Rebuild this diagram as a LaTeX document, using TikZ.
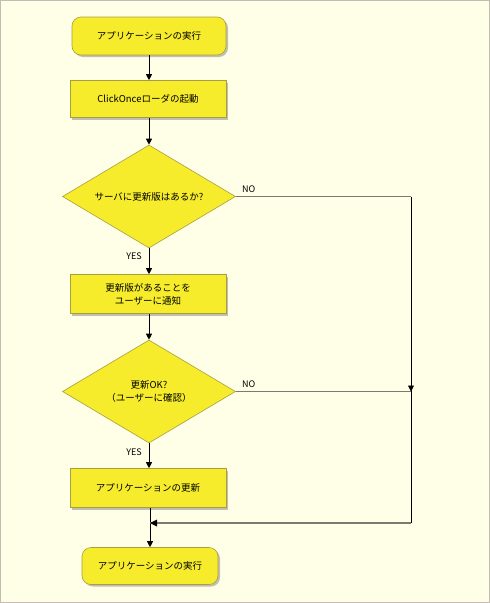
\documentclass[tikz,border=0pt]{standalone}
\usepackage{fontspec}
\setmainfont{Noto Sans CJK JP}
\usetikzlibrary{shapes.geometric,shapes.misc,arrows.meta,shadows}
\definecolor{bg}{HTML}{FFFFE8}
\definecolor{frame}{HTML}{C4BCB4}
\definecolor{boxfill}{HTML}{F6EC2C}
\definecolor{boxline}{HTML}{A89E40}
\definecolor{gline}{HTML}{7A7A70}
\tikzset{
  every node/.style={font=\fontsize{9.5}{13}\selectfont},
  box/.style={draw=boxline, fill=boxfill, line width=0.6pt, minimum width=156pt, minimum height=37pt, inner sep=2pt, align=center,
    drop shadow={shadow xshift=2pt, shadow yshift=-2pt, opacity=0.35, fill=black!70}},
  decbox/.style={draw=boxline, fill=boxfill, line width=0.6pt, diamond, aspect=1.7, minimum width=173pt, minimum height=103pt, inner sep=0pt, align=center},
  flow/.style={draw=black, line width=0.9pt, -{Triangle[length=6pt,width=6pt]}},
  vline/.style={draw=black, line width=0.9pt},
  hline/.style={draw=gline, line width=1.5pt},
  lbl/.style={font=\fontsize{9}{10}\selectfont, inner sep=0pt}
}
\begin{document}
\begin{tikzpicture}[x=1pt,y=-1pt]
\fill[bg] (0,0) rectangle (490,603);
\draw[frame, line width=1.2pt] (0.6,0.6) rectangle (489.4,602.4);
\node[box, rectangle, rounded corners=9pt, minimum width=154pt, minimum height=38pt] (s1) at (149,36) {アプリケーションの実行};
\node[box] (b2) at (148,99) {ClickOnceローダの起動};
\node[decbox] (d1) at (149,196.5) {サーバに更新版はあるか?};
\node[box, minimum height=39pt] (b3) at (148,294) {更新版があることを\\ユーザーに通知};
\node[decbox] (d2) at (149,391.5) {更新OK?\\（ユーザーに確認）};
\node[box, minimum height=39pt] (b4) at (148,488) {アプリケーションの更新};
\node[box, rectangle, rounded corners=9pt, minimum width=136pt, minimum height=37pt] (s2) at (150,566) {アプリケーションの実行};
\coordinate (j1) at (411,196.5);
\coordinate (j2) at (411,391.5);
\coordinate (j3) at (411,523);
\coordinate (j4) at (150,523);
\draw[flow] (s1.south) -- (b2.north -| s1.south);
\draw[flow] (b2.south -| d1.north) -- (d1.north);
\draw[flow] (d1.south) -- (b3.north -| d1.south);
\draw[flow] (b3.south -| d2.north) -- (d2.north);
\draw[flow] (d2.south) -- (b4.north -| d2.south);
\draw[flow] (b4.south -| s2.north) -- (s2.north);
\draw[hline] (d1.east) -- (j1);
\draw[hline] (d2.east) -- (j2);
\draw[vline] (j1) -- (j2);
\draw[vline] (j2) -- (j3);
\draw[flow] (411,380) -- (j2);
\draw[hline] (j3) -- (j4);
\fill[black] (j4) -- ++(7,-3.5) -- ++(0,7) -- cycle;
\node[lbl, anchor=south west] (no1) at (242,193) {NO};
\node[lbl, anchor=south west] (no2) at (242,388) {NO};
\node[lbl, anchor=east] (yes1) at (142,256) {YES};
\node[lbl, anchor=east] (yes2) at (142,452) {YES};
\end{tikzpicture}
\end{document}
